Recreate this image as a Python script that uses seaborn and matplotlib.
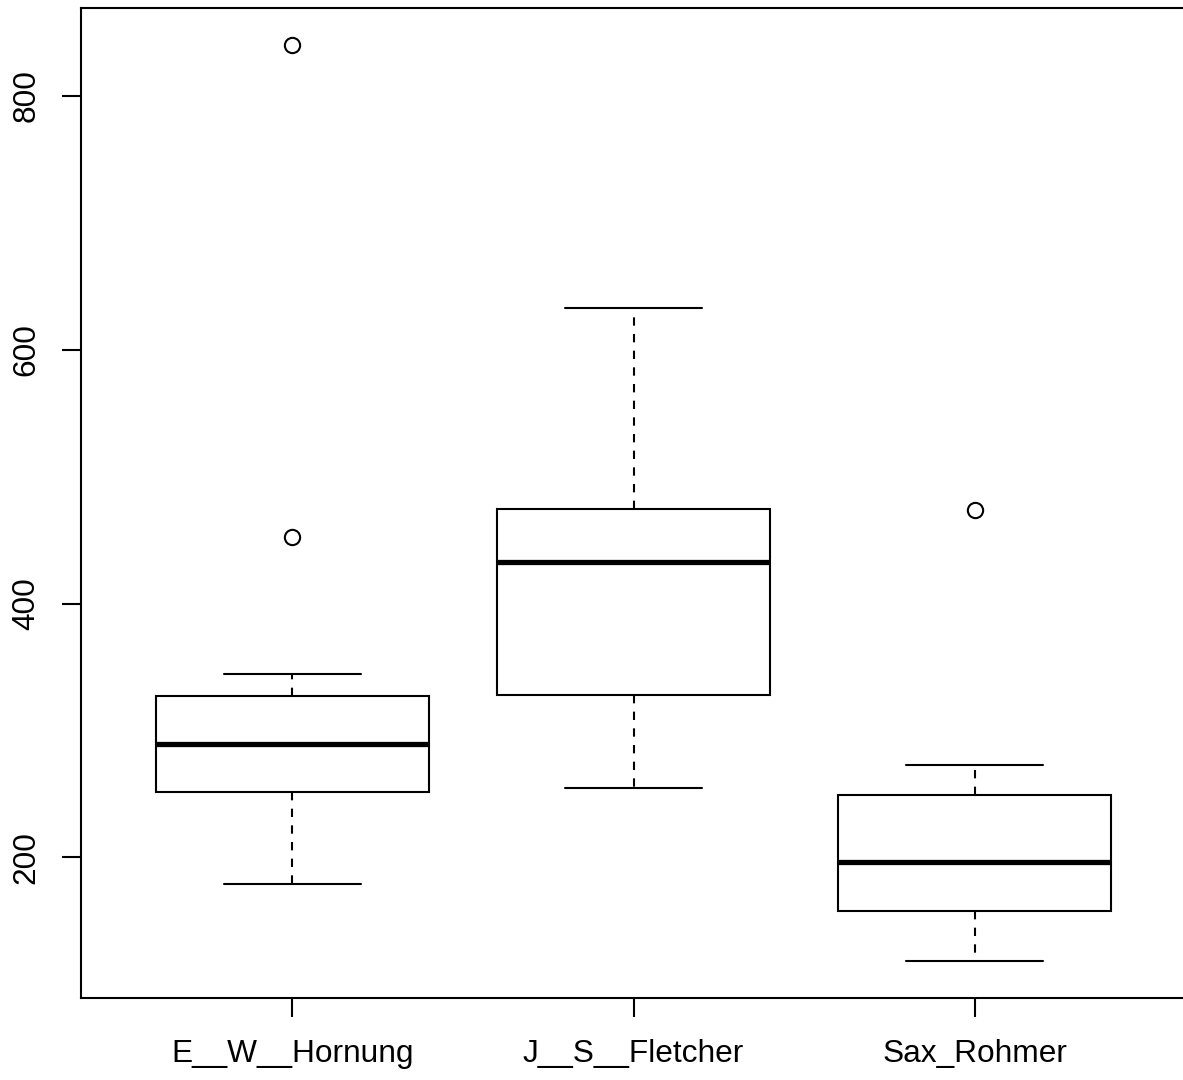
import numpy as np
import pandas as pd
import matplotlib
matplotlib.use("Agg")
import matplotlib.pyplot as plt
import seaborn as sns

# ---- data ----
categories = ["E__W__Hornung", "J__S__Fletcher", "Sax_Rohmer"]
hornung = [179.3, 205.0, 232.0, 251.4, 265.0, 278.0, 289.6, 300.0, 314.0, 327.1, 344.2, 452.1, 840.4]
fletcher = [254.6, 290.0, 327.6, 380.0, 432.4, 455.0, 474.9, 550.0, 633.2]
rohmer = [118.1, 140.0, 157.5, 175.0, 196.1, 225.0, 248.8, 272.5, 474.1]
y_ticks = [200, 400, 600, 800]

df = pd.DataFrame({
    "author": [categories[0]] * len(hornung) + [categories[1]] * len(fletcher) + [categories[2]] * len(rohmer),
    "value": hornung + fletcher + rohmer,
})

sns.set_theme(style="white")
plt.rcParams["font.family"] = ["Liberation Sans", "DejaVu Sans"]

W, H = 1183, 1080
fig = plt.figure(figsize=(W / 100, H / 100), dpi=100)
fig.patch.set_facecolor("white")
ax = fig.add_axes([81 / W, 82 / H, 1105 / W, 990 / H])

lw = 1.5
sns.boxplot(
    data=df, x="author", y="value", order=categories, ax=ax,
    color="white", linecolor="black", linewidth=lw, width=0.8, whis=1.5,
    saturation=1,
    whiskerprops=dict(linestyle=(0, (4, 4)), linewidth=lw, color="black"),
    capprops=dict(linewidth=lw, color="black"),
    boxprops=dict(linewidth=lw, edgecolor="black", facecolor="white"),
    medianprops=dict(linewidth=3.8, color="black", solid_capstyle="butt"),
    flierprops=dict(marker="o", markersize=11, markerfacecolor="none",
                    markeredgecolor="black", markeredgewidth=1.5),
)

ax.set_xlim(-0.62, 2.62)
ax.set_ylim(89.2, 869.3)
ax.set_yticks(y_ticks)
ax.set_yticklabels([str(t) for t in y_ticks], rotation=90, va="center")
ax.set_xlabel("")
ax.set_ylabel("")
for s in ax.spines.values():
    s.set_color("black")
    s.set_linewidth(1.5)
    s.set_visible(True)
ax.tick_params(axis="both", which="both", bottom=True, left=True, direction="out",
               length=13.7, width=1.5, color="black", labelsize=22.8, labelcolor="black")
ax.tick_params(axis="x", pad=16.0)
ax.tick_params(axis="y", pad=15.0)
ax.grid(False)

fig.savefig("out.png", dpi=100, facecolor="white")
